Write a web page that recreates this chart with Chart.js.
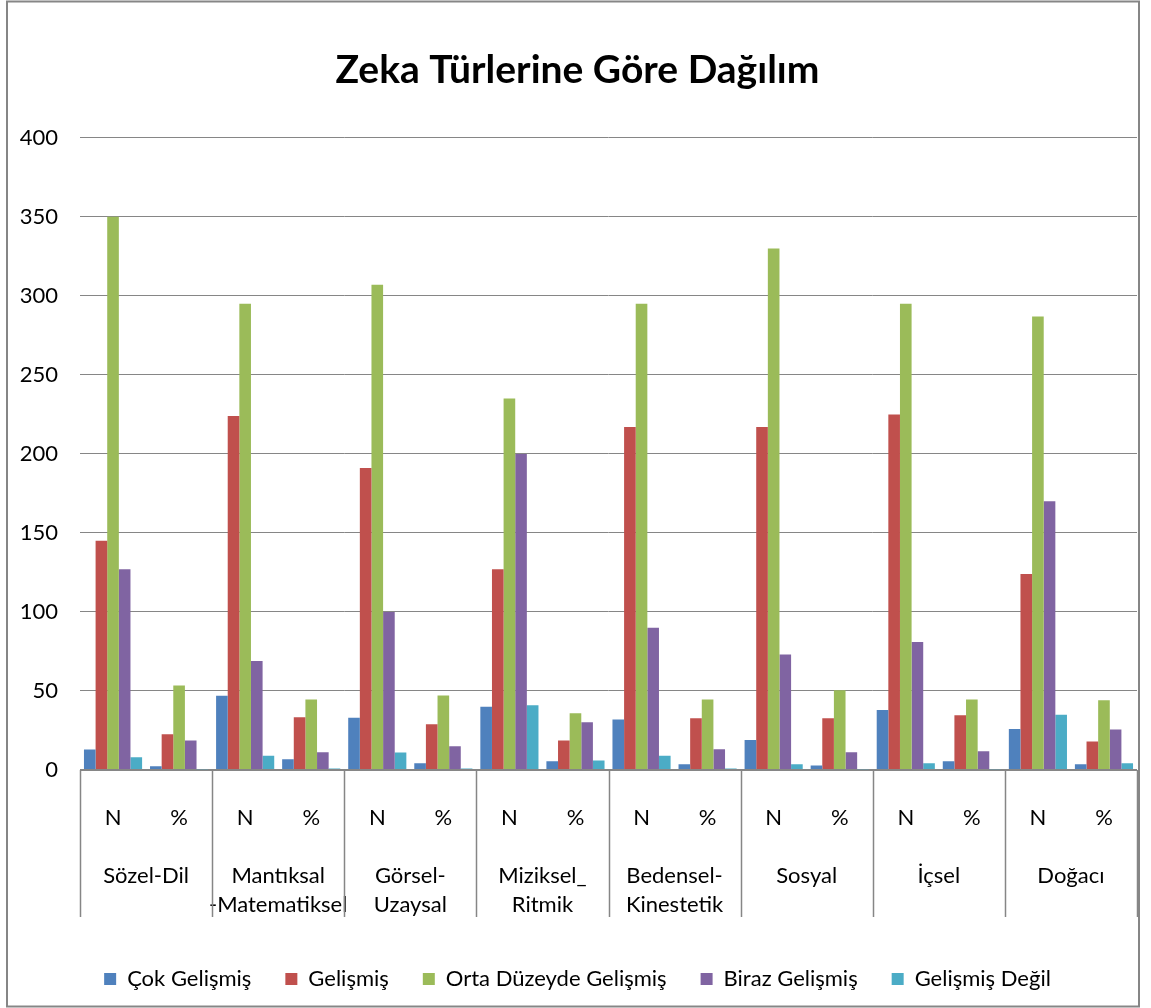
<!DOCTYPE html>
<html>
<head>
<meta charset="utf-8">
<script src="https://cdn.jsdelivr.net/npm/chart.js@4.4.0/dist/chart.umd.min.js"></script>
<style>
html,body{margin:0;padding:0;background:#fff;}
canvas{display:block;}
</style>
</head>
<body>
<canvas id="c" width="1151" height="1008"></canvas>
<script>
// ---- data ----
const mainCategories = [
  'Sözel-Dil',
  ['Mantıksal', '-Matematiksel'],
  ['Görsel-', 'Uzaysal'],
  ['Miziksel_', 'Ritmik'],
  ['Bedensel-', 'Kinestetik'],
  'Sosyal',
  'İçsel',
  'Doğacı'
];
const subCategories = ['N','%','N','%','N','%','N','%','N','%','N','%','N','%','N','%'];
const seriesNames = ['Çok Gelişmiş', 'Gelişmiş', 'Orta Düzeyde Gelişmiş', 'Biraz Gelişmiş', 'Gelişmiş Değil'];
const cokGelismis   = [13, 2.4, 47, 6.8, 33, 4.2, 40, 5.5, 32, 3.7, 19, 2.9, 38, 5.5, 26, 3.7];
const gelismis      = [145, 22.6, 224, 33.3, 191, 28.9, 127, 18.6, 217, 32.8, 217, 32.8, 225, 34.6, 124, 18.1];
const ortaDuzeyde   = [350, 53.5, 295, 44.6, 307, 47.2, 235, 35.9, 295, 44.6, 330, 50.4, 295, 44.6, 287, 44.1];
const birazGelismis = [127, 18.6, 69, 11.3, 100, 15.0, 200, 30.2, 90, 13.1, 73, 11.3, 81, 11.8, 170, 25.7];
const gelismisDegil = [8, 0.5, 9, 1.0, 11, 1.0, 41, 6.0, 9, 1.0, 3.7, 0.5, 4.2, 0.5, 35, 4.2];
const yTicks = [0, 50, 100, 150, 200, 250, 300, 350, 400];
const colors = ['#4F81BD', '#C0504D', '#9BBB59', '#8064A2', '#4BACC6'];
const title = 'Zeka Türlerine Göre Dağılım';

const seriesValues = [cokGelismis, gelismis, ortaDuzeyde, birazGelismis, gelismisDegil];
const GRID = '#868686';
const FONT = 'Lato';

const framePlugin = {
  id: 'frame',
  afterDraw(chart) {
    const ctx = chart.ctx;
    const x2 = chart.scales.x2;
    ctx.save();
    ctx.strokeStyle = GRID;
    ctx.lineWidth = 1.5;
    const n = mainCategories.length;
    const bounds = [];
    for (let i = 0; i <= n; i++) {
      let px;
      if (i === 0) px = x2.left;
      else if (i === n) px = x2.right;
      else px = (x2.getPixelForValue(i - 1) + x2.getPixelForValue(i)) / 2;
      bounds.push(px);
    }
    const yTop = chart.chartArea.bottom;
    const yBot = x2.top + 67;
    bounds.forEach(px => {
      ctx.beginPath();
      ctx.moveTo(Math.round(px) + 0.5, yTop);
      ctx.lineTo(Math.round(px) + 0.5, yBot);
      ctx.stroke();
    });
    ctx.lineWidth = 2;
    ctx.strokeStyle = GRID;
    ctx.strokeRect(7, 1.5, 1132, 1005);
    ctx.restore();
  }
};

new Chart(document.getElementById('c'), {
  type: 'bar',
  data: {
    labels: subCategories,
    datasets: seriesNames.map((name, i) => ({
      label: name,
      data: seriesValues[i],
      backgroundColor: colors[i],
      borderWidth: 0,
      categoryPercentage: 0.88,
      barPercentage: 1.0
    }))
  },
  options: {
    responsive: false,
    animation: false,
    devicePixelRatio: 1,
    layout: { padding: { left: 18, right: 14, top: 0, bottom: 8 } },
    plugins: {
      title: {
        display: true,
        text: title,
        color: '#000',
        font: { family: FONT, size: 39, weight: 'bold' },
        padding: { top: 47, bottom: 44 }
      },
      legend: {
        position: 'bottom',
        labels: {
          boxWidth: 12,
          boxHeight: 12,
          padding: 34,
          color: '#000',
          font: { family: FONT, size: 22 }
        }
      },
      tooltip: { enabled: false }
    },
    scales: {
      x: {
        type: 'category',
        position: 'bottom',
        weight: 0,
        grid: { display: false },
        border: { display: false },
        ticks: {
          autoSkip: false, maxRotation: 0, minRotation: 0,
          padding: 27,
          color: '#000',
          font: { family: FONT, size: 22 }
        },
        afterFit(scale) { scale.height = 80; }
      },
      x2: {
        type: 'category',
        position: 'bottom',
        weight: 1,
        labels: mainCategories,
        offset: true,
        grid: { display: false },
        border: { display: false },
        ticks: {
          autoSkip: false, maxRotation: 0, minRotation: 0,
          padding: 4,
          color: '#000',
          font: { family: FONT, size: 22, lineHeight: 1.3 }
        },
        afterFit(scale) { scale.height = 84; }
      },
      y: {
        min: 0,
        max: 400,
        afterBuildTicks(scale) { scale.ticks = yTicks.map(v => ({ value: v })); },
        grid: {
          color: GRID,
          lineWidth: ctx => (ctx.tick && ctx.tick.value === 0 ? 2 : 1),
          drawTicks: false
        },
        border: { display: false },
        ticks: {
          padding: 22,
          color: '#000',
          font: { family: FONT, size: 22 }
        },
        afterFit(scale) { scale.width = 62; }
      }
    }
  },
  plugins: [framePlugin]
});
</script>
</body>
</html>
